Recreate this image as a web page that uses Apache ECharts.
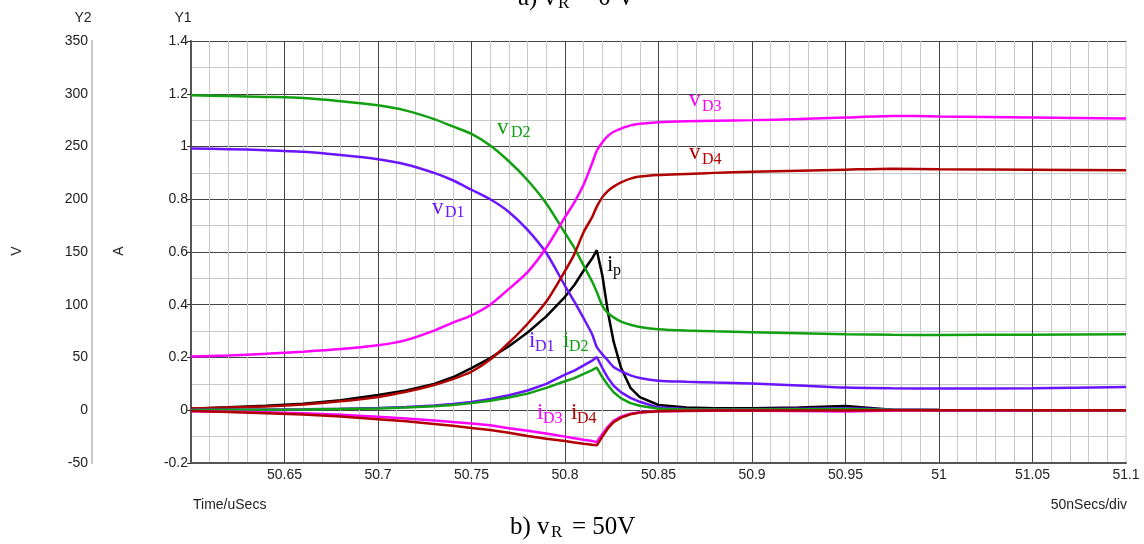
<!DOCTYPE html>
<html><head><meta charset="utf-8">
<script src="https://cdn.jsdelivr.net/npm/echarts@6/dist/echarts.min.js"></script>
<style>html,body{margin:0;padding:0;background:#fff}#c{width:1144px;height:544px}</style>
</head><body><div id="c"></div>
<script>
// time axis (uSecs)
const timeUs = [50.600, 50.620, 50.640, 50.660, 50.680, 50.700, 50.715, 50.730, 50.740, 50.750,
  50.760, 50.770, 50.780, 50.790, 50.800, 50.805, 50.810, 50.8145, 50.817, 50.820,
  50.823, 50.826, 50.830, 50.835, 50.840, 50.850, 50.865, 50.880, 50.900, 50.925,
  50.950, 50.975, 51.000, 51.050, 51.100];
// voltages (V, Y2 scale)
const vD1 = [248, 247.5, 246.5, 245, 242, 238, 233, 225, 218, 209, 200, 188, 171, 149, 118, 103, 87, 72, 60, 53,
  47, 41, 37, 33, 30.5, 28, 27, 26.2, 25.3, 23.5, 21.5, 20.8, 20.5, 20.8, 22];
const vD2 = [298.6, 297.8, 297, 296, 293, 289, 284, 276, 269, 262, 251, 236, 218, 196, 168, 154, 137, 122, 112, 99,
  92, 88, 84, 81, 79, 76.8, 75.5, 74.8, 74, 73, 72, 71.5, 71.4, 71.6, 72];
const vD3 = [51, 52, 53.5, 55.5, 58, 61.6, 66.5, 75.5, 83, 90, 100, 115, 131, 154, 183, 197, 214, 234, 246, 254,
  260, 264, 267, 270, 271.5, 273, 274, 274.5, 275, 276, 277.4, 279, 278.5, 277.5, 276.5];
const vD4 = [1.6, 2.5, 3.6, 5.5, 8.5, 12.6, 17.5, 24, 29.5, 36.5, 48, 64, 82, 103, 132, 148, 169, 183, 193, 202,
  208, 212, 216, 219.5, 221.5, 223, 224, 225, 226, 227, 228, 229, 228.5, 228, 227.5];
// currents (A, Y1 scale)
const ip = [0.006, 0.011, 0.017, 0.025, 0.038, 0.058, 0.075, 0.100, 0.125, 0.160, 0.198, 0.243, 0.295, 0.356, 0.430,
  0.475, 0.530, 0.575, 0.607, 0.510, 0.370, 0.260, 0.160, 0.085, 0.050, 0.020, 0.010, 0.008, 0.008, 0.010,
  0.016, 0.002, 0.001, 0, 0];
const iD1 = [0.002, 0.002, 0.003, 0.004, 0.006, 0.009, 0.012, 0.018, 0.024, 0.031, 0.043, 0.057, 0.075, 0.100, 0.135,
  0.150, 0.170, 0.188, 0.202, 0.160, 0.122, 0.093, 0.068, 0.047, 0.032, 0.010, 0.005, 0.004, 0.004, 0.006,
  0.008, 0.003, 0.001, 0, 0];
const iD2 = [0.001, 0.002, 0.002, 0.003, 0.005, 0.007, 0.010, 0.015, 0.020, 0.027, 0.036, 0.048, 0.063, 0.085, 0.110,
  0.122, 0.138, 0.152, 0.162, 0.125, 0.095, 0.068, 0.045, 0.027, 0.017, 0.006, 0.003, 0.003, 0.003, 0.004,
  0.005, 0.002, 0.001, 0, -0.002];
const iD3 = [-0.004, -0.006, -0.008, -0.011, -0.017, -0.025, -0.031, -0.039, -0.045, -0.050, -0.057, -0.068, -0.078,
  -0.088, -0.100, -0.106, -0.112, -0.117, -0.120, -0.090, -0.062, -0.040, -0.024, -0.013, -0.008, -0.004,
  -0.003, -0.002, -0.002, -0.003, -0.005, -0.001, 0, 0, 0];
const iD4 = [-0.003, -0.007, -0.011, -0.016, -0.024, -0.034, -0.042, -0.052, -0.059, -0.067, -0.075, -0.085, -0.098,
  -0.108, -0.117, -0.122, -0.127, -0.131, -0.133, -0.100, -0.068, -0.045, -0.028, -0.015, -0.009, -0.004,
  -0.002, -0.001, -0.001, -0.001, -0.001, 0, 0, 0, 0];
// axis ranges
const xRange = [50.6, 51.1, 0.05];
const y1Range = [-0.2, 1.4, 0.2];
const y2Range = [-50, 350, 50];

const SANS = '"Liberation Sans", Arial, sans-serif';
const SERIF = '"Liberation Serif", "Times New Roman", serif';
const C = { p: '#6a14ff', g: '#12a012', m: '#ff00ff', r: '#b00000', k: '#000000' };

const fmt = v => String(+(+v).toFixed(2));
const pair = arr => timeUs.map((t, i) => [t, arr[i]]);

function line(name, arr, color, yIdx, smooth) {
  return { name, type: 'line', yAxisIndex: yIdx, data: pair(arr), showSymbol: false, symbol: 'none',
    smooth: smooth || false, lineStyle: { color, width: 2.5 }, itemStyle: { color }, z: 3, silent: true };
}

function txt(x, baseY, text, size, color, family) {
  return { type: 'text', x: x, y: baseY - 0.32 * size, z: 10,
    style: { text, fill: color, font: size + 'px ' + (family || SERIF),
      textAlign: 'left', align: 'left', textVerticalAlign: 'middle', verticalAlign: 'middle' } };
}
function lab(x, baseY, main, sub, subX, subBase, color) {
  return [txt(x, baseY, main, 23, color), txt(subX, subBase, sub, 16, color)];
}
function cap(x, y, text, align, rot) {
  return { type: 'text', x, y, rotation: rot || 0,
    style: { text, font: '14px ' + SANS, fill: '#222', textAlign: align, align: align, textVerticalAlign: 'middle', verticalAlign: 'middle' } };
}

const graphic = [].concat(
  // titles
  txt(518, 6, 'a) v', 25, '#000'), txt(558, 9, 'R', 17, '#000'), txt(578, 6, '= 0 V', 25, '#000'),
  txt(510, 535, 'b) v', 25, '#000'), txt(551, 538, 'R', 17, '#000'), txt(572, 535, '= 50V', 25, '#000'),
  // curve labels
  lab(497, 135, 'v', 'D2', 511, 138, C.g),
  lab(432, 215, 'v', 'D1', 445, 218, C.p),
  lab(689, 107, 'v', 'D3', 702, 112, C.m),
  lab(689, 160, 'v', 'D4', 702, 165, C.r),
  lab(607, 272, 'i', 'p', 613, 276, C.k),
  lab(529, 348, 'i', 'D1', 535, 352, C.p),
  lab(563, 348, 'i', 'D2', 569, 352, C.g),
  lab(537, 420, 'i', 'D3', 543, 424, C.m),
  lab(571, 420, 'i', 'D4', 577, 424, C.r),
  // axis captions
  [
    cap(83, 18, 'Y2', 'center'),
    cap(183, 18, 'Y1', 'center'),
    cap(17, 251, 'V', 'center', Math.PI / 2),
    cap(119, 251, 'A', 'center', Math.PI / 2),
    cap(193, 505, 'Time/uSecs', 'left'),
    cap(1127, 505, '50nSecs/div', 'right'),
    { type: 'line', shape: { x1: 1126, y1: 41, x2: 1126, y2: 463 }, style: { stroke: '#c8c8c8', lineWidth: 1 }, z: 0 }
  ]
);

const chart = echarts.init(document.getElementById('c'), null, { renderer: 'canvas' });
chart.setOption({
  animation: false,
  backgroundColor: '#fff',
  grid: { left: 191, right: 18, top: 41, bottom: 81, containLabel: false },
  xAxis: {
    type: 'value', min: xRange[0], max: xRange[1], interval: xRange[2],
    axisLine: { show: true, onZero: false, lineStyle: { color: '#555', width: 2 } },
    axisTick: { show: false },
    axisLabel: { margin: 5, fontSize: 14, fontFamily: SANS, color: '#222',
      formatter: v => Math.abs(v - xRange[0]) < 1e-6 ? '' : fmt(v) },
    splitLine: { show: true, showMaxLine: false, lineStyle: { color: '#444', width: 1 } },
    minorTick: { show: false, splitNumber: 5 },
    minorSplitLine: { show: true, lineStyle: { color: '#c8c8c8', width: 1 } }
  },
  yAxis: [
    {
      type: 'value', position: 'left', min: y1Range[0], max: y1Range[1], interval: y1Range[2],
      axisLine: { show: true, onZero: false, lineStyle: { color: '#555', width: 2 } },
      axisTick: { show: true, length: 4, lineStyle: { color: '#333' } },
      axisLabel: { margin: 3, fontSize: 14, fontFamily: SANS, color: '#222', formatter: fmt },
      splitLine: { show: true, lineStyle: { color: '#444', width: 1 } },
      minorTick: { show: false, splitNumber: 2 },
      minorSplitLine: { show: true, lineStyle: { color: '#c8c8c8', width: 1 } }
    },
    {
      type: 'value', position: 'left', offset: 99, min: y2Range[0], max: y2Range[1], interval: y2Range[2],
      axisLine: { show: true, onZero: false, lineStyle: { color: '#c8c8c8', width: 2 } },
      axisTick: { show: false },
      axisLabel: { margin: 4, fontSize: 14, fontFamily: SANS, color: '#222', formatter: fmt },
      splitLine: { show: false }
    }
  ],
  series: [
    line('ip', ip, C.k, 0),
    line('vD1', vD1, C.p, 1, 0.25),
    line('vD2', vD2, C.g, 1, 0.25),
    line('vD3', vD3, C.m, 1, 0.25),
    line('vD4', vD4, C.r, 1, 0.25),
    line('iD1', iD1, C.p, 0),
    line('iD2', iD2, C.g, 0),
    line('iD3', iD3, C.m, 0),
    line('iD4', iD4, C.r, 0)
  ],
  graphic: graphic
});
</script>
</body></html>
